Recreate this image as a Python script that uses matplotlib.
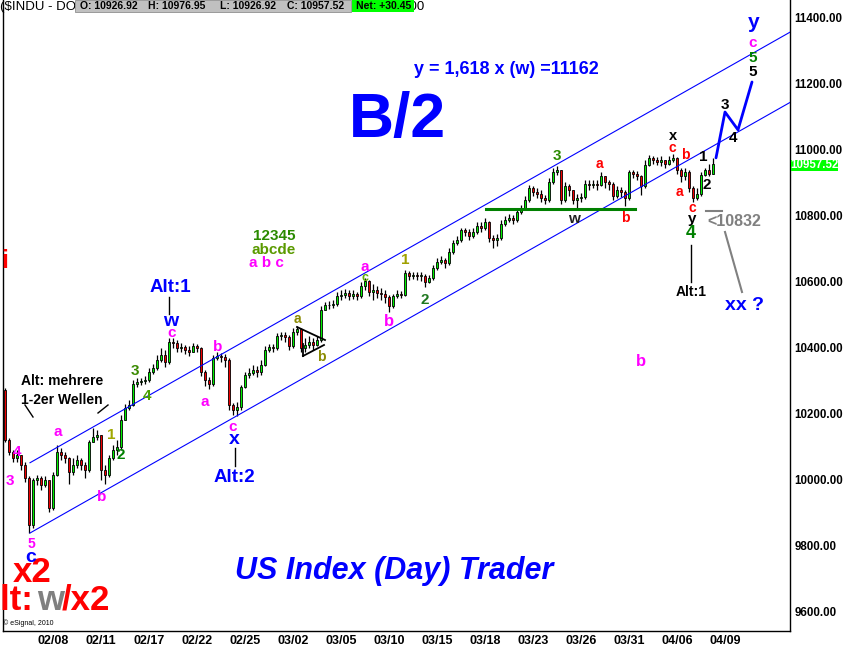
import matplotlib
matplotlib.use("Agg")
import matplotlib.pyplot as plt
from matplotlib.lines import Line2D
from matplotlib.patches import Rectangle
import numpy as np

plt.rcParams['font.family'] = ['Liberation Sans', 'DejaVu Sans']

# ---------------- data (4 bars per trading day) ----------------
first_open = 10273
closes = [
10121, 10085, 10067, 10076, 10045, 10006, 9864, 10000, 10006, 9985,
10000, 9915, 10015, 10085, 10076, 10067, 10024, 10045, 10061, 10045,
10030, 10115, 10130, 10136, 10030, 10015, 10067, 10091, 10100, 10182,
10218, 10227, 10291, 10297, 10300, 10303, 10327, 10339, 10364, 10379,
10358, 10418, 10415, 10400, 10403, 10394, 10388, 10406, 10400, 10327,
10303, 10291, 10370, 10376, 10373, 10364, 10227, 10212, 10221, 10282,
10318, 10324, 10333, 10327, 10349, 10394, 10403, 10400, 10436, 10439,
10433, 10406, 10448, 10458, 10400, 10409, 10418, 10409, 10424, 10515,
10530, 10530, 10533, 10558, 10561, 10567, 10558, 10564, 10558, 10588,
10603, 10570, 10576, 10567, 10564, 10555, 10527, 10558, 10564, 10561,
10627, 10618, 10621, 10618, 10618, 10600, 10612, 10642, 10661, 10667,
10658, 10691, 10718, 10727, 10758, 10752, 10739, 10752, 10770, 10764,
10782, 10733, 10727, 10733, 10776, 10788, 10794, 10788, 10812, 10824,
10848, 10885, 10873, 10867, 10855, 10848, 10903, 10933, 10939, 10848,
10891, 10879, 10848, 10855, 10858, 10897, 10894, 10897, 10894, 10921,
10903, 10897, 10861, 10879, 10873, 10855, 10933, 10927, 10921, 10891,
10955, 10976, 10970, 10964, 10970, 10958, 10970, 10976, 10939, 10921,
10933, 10885, 10855, 10867, 10924, 10939, 10927, 10957.52]
highs = [
10279, 10127, 10091, 10091, 10076, 10055, 10012, 10006, 10015, 10012,
10012, 9994, 10024, 10106, 10097, 10085, 10070, 10067, 10076, 10067,
10055, 10121, 10158, 10151, 10136, 10045, 10076, 10106, 10121, 10197,
10230, 10242, 10303, 10309, 10309, 10315, 10339, 10352, 10379, 10400,
10394, 10430, 10430, 10424, 10415, 10409, 10406, 10415, 10412, 10403,
10333, 10312, 10379, 10388, 10385, 10382, 10370, 10233, 10236, 10288,
10327, 10339, 10349, 10345, 10364, 10406, 10412, 10412, 10445, 10448,
10448, 10439, 10461, 10467, 10461, 10430, 10436, 10430, 10436, 10527,
10539, 10542, 10545, 10570, 10576, 10579, 10576, 10576, 10570, 10600,
10612, 10606, 10594, 10588, 10582, 10576, 10561, 10564, 10576, 10573,
10636, 10633, 10630, 10630, 10630, 10624, 10621, 10652, 10673, 10679,
10673, 10703, 10727, 10739, 10764, 10764, 10761, 10764, 10782, 10782,
10794, 10785, 10742, 10745, 10788, 10800, 10806, 10803, 10824, 10833,
10861, 10894, 10891, 10885, 10879, 10864, 10915, 10945, 10952, 10939,
10903, 10897, 10879, 10867, 10870, 10909, 10909, 10909, 10909, 10933,
10921, 10909, 10903, 10891, 10888, 10879, 10939, 10939, 10936, 10924,
10970, 10985, 10982, 10979, 10982, 10970, 10982, 10988, 10979, 10945,
10945, 10939, 10891, 10885, 10933, 10945, 10958, 10976.95]
lows = [
10115, 10076, 10055, 10055, 10030, 9994, 9839, 9855, 9985, 9970,
9979, 9903, 9909, 10012, 10061, 10051, 9988, 10015, 10036, 10030,
10006, 10024, 10115, 10121, 10000, 9988, 10009, 10061, 10076, 10091,
10182, 10212, 10224, 10282, 10288, 10291, 10297, 10321, 10333, 10358,
10342, 10352, 10400, 10388, 10388, 10382, 10376, 10388, 10388, 10315,
10285, 10276, 10285, 10364, 10358, 10342, 10212, 10197, 10194, 10212,
10279, 10309, 10318, 10312, 10318, 10345, 10388, 10388, 10394, 10424,
10418, 10394, 10400, 10439, 10388, 10388, 10400, 10394, 10406, 10418,
10515, 10518, 10521, 10527, 10545, 10552, 10545, 10549, 10545, 10552,
10576, 10558, 10545, 10552, 10545, 10536, 10509, 10521, 10552, 10552,
10558, 10606, 10609, 10606, 10603, 10585, 10597, 10606, 10636, 10655,
10642, 10652, 10685, 10712, 10721, 10739, 10727, 10733, 10745, 10752,
10758, 10721, 10703, 10709, 10727, 10770, 10782, 10776, 10782, 10806,
10824, 10842, 10861, 10855, 10842, 10836, 10842, 10897, 10924, 10836,
10842, 10861, 10836, 10824, 10842, 10852, 10879, 10885, 10879, 10891,
10885, 10879, 10848, 10855, 10858, 10830, 10848, 10915, 10909, 10864,
10885, 10952, 10958, 10955, 10952, 10945, 10955, 10964, 10927, 10903,
10909, 10873, 10842, 10848, 10861, 10921, 10921, 10926.92]

date_labels = ["02/08", "02/11", "02/17", "02/22", "02/25", "03/02", "03/05",
               "03/10", "03/15", "03/18", "03/23", "03/26", "03/31", "04/06", "04/09"]
bars_per_day = 4
first_label_bar = 12
label_every_days = 3

price_ticks = [9600, 9800, 10000, 10200, 10400, 10600, 10800, 11000, 11200, 11400]

# trend lines (bar position, price)
channel_x = [6.25, 196.25]
lower_channel = [9839, 11144]
upper_channel = [10052, 11357]
support_x = [120.25, 157.5]
support_price = 10821
proj_x = [177.75, 180.0, 183.25, 186.75]
proj_price = [10976, 11115, 11061, 11206]

header_vals = {"O": "10926.92", "H": "10976.95", "L": "10926.92", "C": "10957.52"}
net_change = "+30.45"
last_price = "10957.52"

# ---------------- figure ----------------
W, H = 845, 649
fig = plt.figure(figsize=(W / 100, H / 100), dpi=100)
fig.patch.set_facecolor('white')
ax = fig.add_axes([3 / W, 18 / H, 787 / W, 631 / H])
ax.set_xlim(-0.5, 196.25)
ax.set_ylim(9542, 11454.5)

n = len(closes)
xs = np.arange(n)
opens = [first_open] + closes[:-1]
up_col, dn_col = '#00F000', '#F00000'
for i in range(n):
    o, c, h, l = opens[i], closes[i], highs[i], lows[i]
    ax.vlines(xs[i], l, h, color='black', lw=0.9, zorder=2)
    col = up_col if c >= o else dn_col
    ax.bar(xs[i], abs(c - o) if abs(c - o) > 0 else 1.5, bottom=min(o, c), width=0.72,
           color=col, edgecolor='black', linewidth=0.6, zorder=3)

# channel lines
ax.plot(channel_x, lower_channel, color='#0000FF', lw=0.8, zorder=4)
ax.plot(channel_x, upper_channel, color='#0000FF', lw=0.8, zorder=4)
ax.plot(support_x, [support_price, support_price], color='#008000', lw=2.2, zorder=4)
ax.plot(proj_x, proj_price, color='#0000FF', lw=2.0, zorder=5, solid_capstyle='round')

# axes styling
ax.spines['top'].set_visible(False)
for s in ['left', 'right', 'bottom']:
    ax.spines[s].set_color('black')
    ax.spines[s].set_linewidth(1.0)

ax.yaxis.tick_right()
ax.set_yticks(price_ticks)
ax.set_yticklabels(["%.2f" % p for p in price_ticks], fontsize=8.3, fontweight='bold')
ax.tick_params(axis='y', length=0, pad=3)
tick_pos = [first_label_bar + k * label_every_days * bars_per_day for k in range(len(date_labels))]
ax.set_xticks(tick_pos)
ax.set_xticklabels(date_labels, fontsize=9, fontweight='bold')
ax.tick_params(axis='x', length=0, pad=3)

# ---------------- helpers in pixel coords ----------------
def T(x, y, s, color, size, ha='center', weight='bold', style='normal', z=10):
    fig.text(x / W, 1 - y / H, s, color=color, fontsize=size, fontweight=weight,
             fontstyle=style, ha=ha, va='center', zorder=z)

def L(x1, y1, x2, y2, color='black', lw=1.0):
    fig.add_artist(Line2D([x1 / W, x2 / W], [1 - y1 / H, 1 - y2 / H],
                          transform=fig.transFigure, color=color, lw=lw, zorder=9))

blue, red, mag, green, black, gray = '#0000FF', '#FF0000', '#FF00FF', '#008000', '#000000', '#808080'

T(397, 120, "B/2", blue, 45)
T(506, 70, "y = 1,618 x (w) =11162", blue, 13)
T(394, 571, "US Index (Day) Trader", blue, 22, style='italic')
T(32, 573, "x2", red, 25)
T(33, 600, "Alt:", red, 25, ha='right')
T(51, 600, "w", gray, 25)
T(62, 600, "/x2", red, 25, ha='left')
T(5, 261, "i", red, 18)
T(3, 623, "\u00a9 eSignal, 2010", black, 5, ha='left', weight='normal')

T(17, 452, "4", mag, 11)
T(10, 481, "3", mag, 11)
T(31, 544, "5", mag, 10)
T(31, 557, "c", blue, 14)
T(58, 432, "a", mag, 11)
T(102, 497, "b", mag, 11)
T(111, 435, "1", '#a0a800', 11)
T(121, 455, "2", '#008000', 11)
T(135, 371, "3", '#3a8a00', 11)
T(147, 396, "4", '#4aa000', 11)
T(21, 381, "Alt: mehrere", black, 10, ha='left')
T(21, 400, "1-2er Wellen", black, 10, ha='left')
L(25, 405, 33, 417)
L(98, 413, 108, 405)

T(170, 288, "Alt:1", blue, 13.5)
L(169, 297, 169, 314)
T(171, 321, "w", blue, 14)
T(172, 333, "c", mag, 11)
T(205, 402, "a", mag, 11)
T(218, 347, "b", mag, 11)
T(233, 427, "c", mag, 11)
T(234, 440, "x", blue, 14)
L(235, 448, 235, 466)
T(234, 478, "Alt:2", blue, 13.5)

T(274, 236, "12345", '#2a8a00', 11)
T(274, 250, "abcde", '#5a9a00', 11)
T(266, 263, "a b c", mag, 11)

T(297, 319, "a", '#8a8a00', 10)
T(321, 357, "b", '#8a8a00', 10)
L(297, 327, 325, 340, lw=1.3)
L(303, 356, 324, 345, lw=1.3)
L(303, 344, 303, 356, lw=1.3)

T(365, 267, "a", mag, 11)
T(365, 278, "c", '#60b000', 9)
T(389, 322, "b", mag, 12)
T(405, 260, "1", '#a0a000', 11)
T(425, 300, "2", '#207820', 11)
T(557, 156, "3", '#2a8a00', 11)
T(599, 164, "a", red, 10)
T(574, 219, "w", '#202020', 11)
T(625, 218, "b", red, 10)
T(641, 362, "b", mag, 12)

T(673, 136, "x", black, 10.5)
T(672, 148, "c", red, 10)
T(685, 155, "b", red, 10)
T(679, 192, "a", red, 10)
T(692, 208, "c", red, 10)
T(692, 219, "y", black, 11)
T(691, 233, "4", '#008000', 13)
L(691, 245, 691, 282)
T(691, 292, "Alt:1", black, 10)
T(703, 157, "1", black, 11)
T(707, 185, "2", black, 11)
T(725, 105, "3", black, 11)
T(733, 138, "4", black, 11)
T(753, 72, "5", black, 11)
T(753, 58, "5", '#008000', 11)
T(753, 43, "c", mag, 11)
T(754, 22, "y", blue, 15)
T(734, 221, "<10832", gray, 11.5)
L(706, 211, 722, 211, color=gray, lw=1.5)
L(725, 232, 742, 292, color=gray, lw=1.5)
T(745, 306, "xx ?", blue, 14)

# ---------------- header & price tag ----------------
T(0, 7, "($INDU - DO", black, 9.5, ha='left', weight='normal', z=5)
T(425, 7, "14:00", black, 9.5, ha='right', weight='normal', z=5)
fig.add_artist(Rectangle((75 / W, 1 - 12 / H), 276 / W, 12 / H, transform=fig.transFigure,
                         facecolor='#C0C0C0', edgecolor='#909090', lw=0.6, zorder=7))
fig.add_artist(Rectangle((352 / W, 1 - 12 / H), 62 / W, 12 / H, transform=fig.transFigure,
                         facecolor='#00FF00', edgecolor='none', zorder=7))
hx = [80, 148, 220, 287]
for (k, v), x in zip(header_vals.items(), hx):
    T(x, 6, "%s: %s" % (k, v), black, 7.5, ha='left', z=8)
T(356, 6, "Net: " + net_change, black, 7.5, ha='left', z=8)

fig.add_artist(Rectangle((791 / W, 1 - 171 / H), 47 / W, 11 / H, transform=fig.transFigure,
                         facecolor='#00FF00', edgecolor='none', zorder=7))
T(814, 165, last_price, 'white', 8.3, z=8)

fig.savefig("out.png", dpi=100)
